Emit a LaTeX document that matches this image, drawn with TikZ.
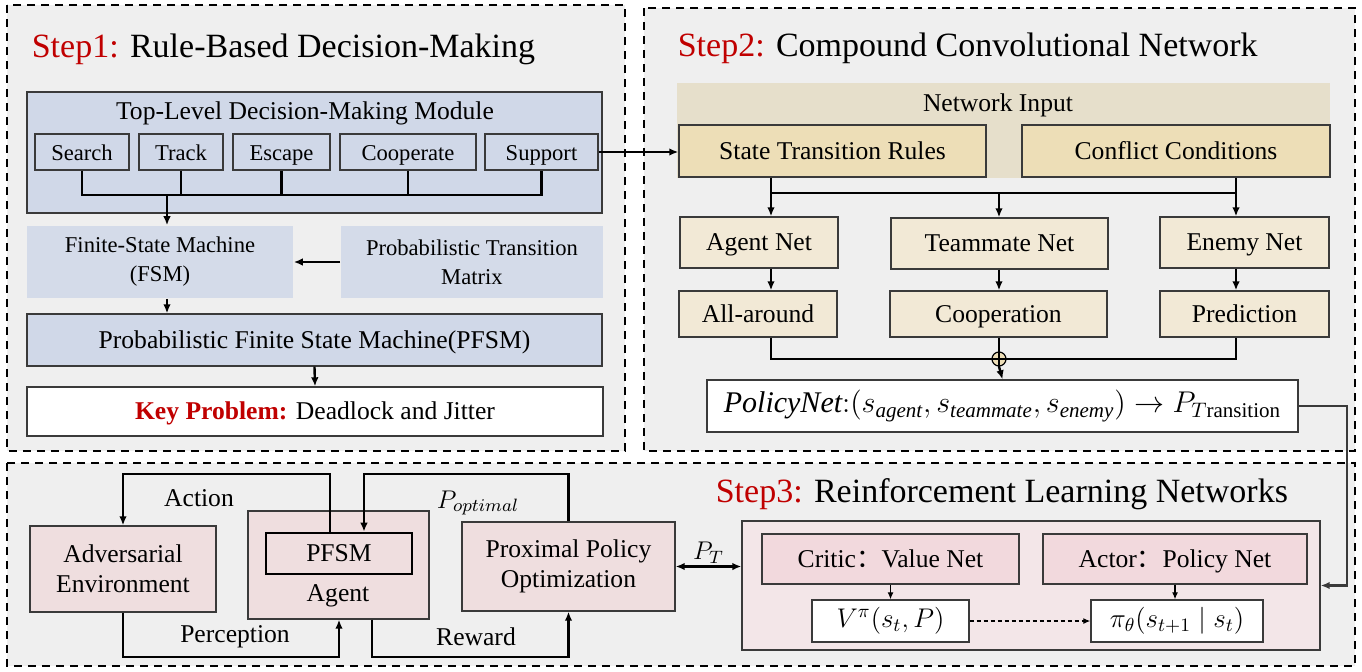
\RequirePackage{fix-cm}
\documentclass[tikz,border=0pt]{standalone}
\usepackage{fontspec}
\setmainfont{Liberation Serif}
\newfontfamily\cjk{Noto Sans CJK SC}
\usetikzlibrary{arrows.meta}

\definecolor{panelgray}{HTML}{EFEFEF}
\definecolor{stepred}{HTML}{C00000}
\definecolor{edgegray}{HTML}{3A3A3A}
\definecolor{moduleblue}{HTML}{D0D8E8}
\definecolor{fsmblue}{HTML}{D4DBE9}
\definecolor{inputbeige}{HTML}{E6DFCB}
\definecolor{rulebeige}{HTML}{EDDEB7}
\definecolor{netbeige}{HTML}{F2E9D6}
\definecolor{envpink}{HTML}{EFDEDF}
\definecolor{rlpink}{HTML}{F3E6E8}
\definecolor{headpink}{HTML}{F2D9DD}

\newcommand\titlesize{\fontsize{17}{20}\selectfont}
\newcommand\boxsize{\fontsize{12.8}{15}\selectfont}
\newcommand\subsize{\fontsize{11.3}{14.5}\selectfont}
\newcommand\mathsize{\fontsize{15}{17}\selectfont}

\begin{document}
\begin{tikzpicture}[x=0.5pt,y=-0.5pt,thick,
  panel/.style={draw=black,line width=1pt,dash pattern=on 4pt off 3pt,fill=panelgray},
  title/.style={anchor=base west,font=\titlesize,inner sep=0pt},
  main box/.style={rectangle,draw=edgegray,line width=0.7pt,inner sep=0pt,font=\boxsize,align=center},
  one line/.style={text height=0.95em,text depth=0.15em},
  sub box/.style={main box,one line,fill=moduleblue,font=\subsize,minimum height=18pt},
  flat box/.style={rectangle,fill=fsmblue,inner sep=0pt,font=\subsize,align=center,minimum height=36pt},
  rule box/.style={main box,one line,fill=rulebeige,minimum height=26pt},
  net box/.style={main box,one line,fill=netbeige},
  env box/.style={main box,fill=envpink},
  lbl/.style={font=\boxsize,inner sep=1pt},
  wire/.style={line width=1.2pt},
  arr/.style={-{Latex[length=4.5pt,width=3.8pt]},line width=1.2pt},
  thin arr/.style={-{Latex[length=3.5pt,width=3pt]},line width=0.6pt}]

  \useasboundingbox (0,0) rectangle (1362,671);

  % Step 1
  \draw[panel] (7,5) rectangle (625,451);
  \node[title] (t1) at (31,57) {\textcolor{stepred}{Step1:} Rule-Based Decision-Making};
  \node[main box,fill=moduleblue,minimum width=287.5pt,minimum height=60.5pt] (module) at (314.5,152.5) {};
  \node[lbl] (modlbl) at (305,113) {Top-Level Decision-Making Module};
  \node[sub box,minimum width=47pt] (search) at (82,152) {Search};
  \node[sub box,minimum width=42pt] (track) at (181,152) {Track};
  \node[sub box,minimum width=48.5pt] (escape) at (281.5,152) {Escape};
  \node[sub box,minimum width=68pt] (coop) at (408,152) {Cooperate};
  \node[sub box,minimum width=56.5pt] (support) at (541.5,152) {Support};
  \node[flat box,minimum width=133pt] (fsm) at (160,262) {Finite-State Machine\\(FSM)};
  \node[flat box,minimum width=131pt] (ptm) at (472,262) {Probabilistic Transition\\Matrix};
  \node[main box,one line,fill=moduleblue,minimum width=287.5pt,minimum height=26pt] (pfsm) at (314.5,340) {Probabilistic Finite State Machine(PFSM)};
  \node[main box,one line,fill=white,minimum width=288pt,minimum height=24.5pt] (key) at (315,411.5) {\textcolor{stepred}{\bfseries Key Problem:} Deadlock and Jitter};

  \coordinate (bus1) at (167,195);
  \draw[wire] (search.south) -- (search.south |- bus1) -- (support.south |- bus1) -- (support.south);
  \draw[wire] (track.south) -- (track.south |- bus1) (escape.south) -- (escape.south |- bus1)
    (coop.south) -- (coop.south |- bus1);
  \draw[arr] (bus1) -- (bus1 |- fsm.north);
  \draw[arr] (ptm.west) -- (fsm.east);
  \draw[arr] (bus1 |- fsm.south) -- (bus1 |- pfsm.north);
  \draw[arr] (pfsm.south) -- (key.north);

  % Step 2
  \draw[panel] (644,8) rectangle (1355,451);
  \node[title] (t2) at (677,56) {\textcolor{stepred}{Step2:} Compound Convolutional Network};
  \node[fill=inputbeige,inner sep=0pt,minimum width=326.5pt,minimum height=47.5pt] (netin) at (1003.5,130.5) {};
  \node[lbl] (netlbl) at (998,105) {Network Input};
  \node[rule box,minimum width=153.5pt] (rules) at (832.5,151) {State Transition Rules};
  \node[rule box,minimum width=154pt] (conflict) at (1176,151) {Conflict Conditions};
  \draw[arr] (support.east) -- (support.east -| rules.west);

  \node[net box,minimum width=79pt,minimum height=25.5pt] (agentnet) at (759,242.5) {Agent Net};
  \node[net box,minimum width=108.5pt,minimum height=25.5pt] (matenet) at (999.5,243.5) {Teammate Net};
  \node[net box,minimum width=84.5pt,minimum height=25.5pt] (enemynet) at (1244.5,242.5) {Enemy Net};
  \node[net box,minimum width=79pt,minimum height=23pt] (allround) at (758,314) {All-around};
  \node[net box,minimum width=108.5pt,minimum height=23pt] (cooperation) at (998.5,314) {Cooperation};
  \node[net box,minimum width=84.5pt,minimum height=23pt] (prediction) at (1244.5,314) {Prediction};

  \coordinate (bus2l) at (771,193);
  \coordinate (bus2m) at (999,193);
  \coordinate (bus2r) at (1236,193);
  \draw[wire] (bus2l |- rules.south) -- (bus2l) -- (bus2r) -- (bus2r |- conflict.south);
  \draw[arr] (bus2l) -- (bus2l |- agentnet.north);
  \draw[arr] (bus2m) -- (bus2m |- matenet.north);
  \draw[arr] (bus2r) -- (bus2r |- enemynet.north);
  \draw[arr] (bus2l |- agentnet.south) -- (bus2l |- allround.north);
  \draw[arr] (bus2m |- matenet.south) -- (bus2m |- cooperation.north);
  \draw[arr] (bus2r |- enemynet.south) -- (bus2r |- prediction.north);

  \node[circle,draw,fill=rulebeige,inner sep=0pt,minimum size=7pt,line width=0.6pt] (sum) at (999,359) {};
  \draw[line width=0.6pt] (sum.north) -- (sum.south) (sum.west) -- (sum.east);
  \coordinate (bus3l) at (771,359);
  \coordinate (bus3r) at (1236,359);
  \draw[wire] (bus3l |- allround.south) -- (bus3l) -- (sum.west) (sum.east) -- (bus3r) -- (bus3r |- prediction.south);
  \draw[wire] (bus2m |- cooperation.south) -- (sum.north);

  \node[main box,fill=white,font=\mathsize,minimum width=295.5pt,minimum height=26pt] (policy) at (1002.5,406)
    {$\mathit{PolicyNet}\colon\!\left(s_{\mathit{agent}},s_{\mathit{teammate}},s_{\mathit{enemy}}\right)\to P_{T\mathrm{ransition}}$};
  \draw[arr] (sum.south) -- (policy.north);

  % Step 3
  \draw[panel] (7,463) rectangle (1355,666);
  \node[title] (t3) at (715,502) {\textcolor{stepred}{Step3:} Reinforcement Learning Networks};
  \node[env box,minimum width=93pt,minimum height=43pt] (adv) at (123,569) {Adversarial\\Environment};
  \node[env box,minimum width=90.5pt,minimum height=54pt] (agentbox) at (338.5,565) {};
  \node[main box,one line,draw=black,line width=1.4pt,fill=envpink,minimum width=73pt,minimum height=20.5pt] (pfsmin) at (339,553.5) {PFSM};
  \node[lbl] (agentlbl) at (338,596) {Agent};
  \node[env box,minimum width=106.5pt,minimum height=44.5pt] (ppo) at (568.5,566.5) {Proximal Policy\\Optimization};
  \node[main box,fill=rlpink,minimum width=289pt,minimum height=64.5pt] (rl) at (1031,585.5) {};
  \node[main box,one line,fill=headpink,minimum width=128.5pt,minimum height=25pt] (critic) at (890.5,559) {Critic{\cjk ：}Value Net};
  \node[main box,one line,fill=headpink,minimum width=132pt,minimum height=25pt] (actor) at (1175,559) {Actor{\cjk ：}Policy Net};
  \node[main box,fill=white,font=\fontsize{13.5}{16}\selectfont,minimum width=78.5pt,minimum height=21pt] (vnet) at (890.5,621) {$V^{\pi}(s_t,P)$};
  \node[main box,fill=white,font=\fontsize{13.5}{16}\selectfont,minimum width=86pt,minimum height=21pt] (pinet) at (1177,621) {$\pi_{\theta}(s_{t+1}\mid s_t)$};

  \draw[thin arr] (critic.south) -- (vnet.north);
  \draw[thin arr] (actor.south) -- (actor.south |- pinet.north);
  \draw[thin arr,dash pattern=on 2pt off 1.5pt] (vnet.east) -- (pinet.west);

  \coordinate (feed) at (1347,406);
  \draw[arr,draw=edgegray,line width=1.4pt] (policy.east) -- (feed) |- (rl.east);
  \draw[{Latex[length=4.5pt,width=3.8pt]}-{Latex[length=4.5pt,width=3.8pt]},wire] (ppo.east) -- (ppo.east -| rl.west)
    node[lbl,midway,above] (ptlbl) {$P_T$};

  \coordinate (act) at (330,474);
  \coordinate (opt) at (364,474);
  \coordinate (perc) at (339,657);
  \coordinate (rew) at (372,657);
  \draw[arr] (act |- pfsmin.north) -- (act) -| (adv.north);
  \draw[arr] (ppo.north) |- (opt) -- (opt |- pfsmin.north);
  \draw[arr] (adv.south) |- (perc) -- (perc |- agentbox.south);
  \draw[arr] (rew |- agentbox.south) -- (rew) -| (ppo.south);
  \node[lbl] (actlbl) at (199,498) {Action};
  \node[lbl] (optlbl) at (478,503) {$P_{optimal}$};
  \node[lbl] (perclbl) at (235,637) {Perception};
  \node[lbl] (rewlbl) at (476,637) {Reward};
\end{tikzpicture}
\end{document}
